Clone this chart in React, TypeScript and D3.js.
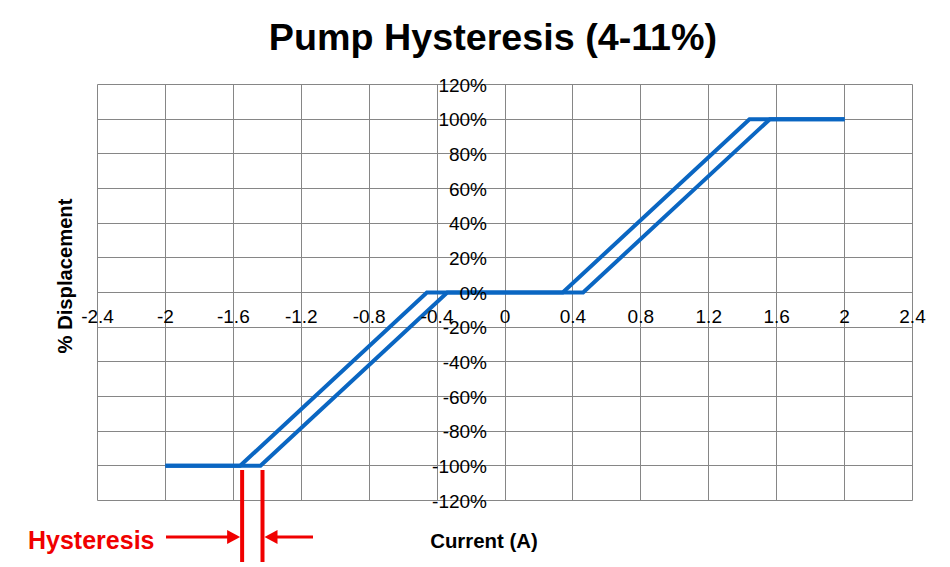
import React from "react";
import * as d3 from "d3";

const W = 950;
const H = 567;

const chartTitle = "Pump Hysteresis (4-11%)";
const xTitle = "Current (A)";
const yTitle = "% Displacement";
const hysteresisLabel = "Hysteresis";

const xTicks = [-2.4, -2, -1.6, -1.2, -0.8, -0.4, 0, 0.4, 0.8, 1.2, 1.6, 2, 2.4];
const yTicks = [-120, -100, -80, -60, -40, -20, 0, 20, 40, 60, 80, 100, 120];

// Two branches of the hysteresis loop
const currentUp = [-2, -1.56, -0.46, 0.34, 1.44, 2];
const displacementUp = [-100, -100, 0, 0, 100, 100];
const currentDown = [-2, -1.44, -0.34, 0.46, 1.56, 2];
const displacementDown = [-100, -100, 0, 0, 100, 100];

const fmtX = (v: number) => (v === 0 ? "0" : String(+v.toFixed(1)));

export default function App() {
  const x = d3.scaleLinear().domain([-2.4, 2.4]).range([97.5, 912.5]);
  const y = d3.scaleLinear().domain([-120, 120]).range([500.5, 84.5]);
  const px = (v: number) => Math.round(x(v) - 0.5) + 0.5;
  const py = (v: number) => Math.round(y(v) - 0.5) + 0.5;

  const line = d3
    .line<[number, number]>()
    .x((d) => x(d[0]))
    .y((d) => y(d[1]));

  const up: [number, number][] = currentUp.map((c, i) => [c, displacementUp[i]]);
  const down: [number, number][] = currentDown.map((c, i) => [c, displacementDown[i]]);

  const grid = "#868686";
  const blue = "#0a66c2";
  const red = "#f00000";
  const font = "Liberation Sans, Arial, sans-serif";

  const h1 = x(currentUp[1]) + 2;
  const h2 = x(currentDown[1]) + 2;
  const arrowY = 537;

  return (
    <svg
      width={W}
      height={H}
      style={{ position: "absolute", left: 0, top: 0, background: "#fff" }}
      fontFamily={font}
    >
      <rect x={0} y={0} width={W} height={H} fill="#fff" />
      {/* grid */}
      {xTicks.map((t) => (
        <line key={"gx" + t} x1={px(t)} x2={px(t)} y1={py(120)} y2={py(-120)} stroke={grid} strokeWidth={1} />
      ))}
      {yTicks.map((t) => (
        <line key={"gy" + t} x1={px(-2.4)} x2={px(2.4)} y1={py(t)} y2={py(t)} stroke={grid} strokeWidth={1} />
      ))}

      {/* series */}
      <path d={line(up) || ""} fill="none" stroke={blue} strokeWidth={4} strokeLinejoin="miter" />
      <path d={line(down) || ""} fill="none" stroke={blue} strokeWidth={4} strokeLinejoin="miter" />

      {/* x tick labels */}
      {xTicks.map((t) => (
        <text key={"tx" + t} x={x(t)} y={323} fontSize={19} textAnchor="middle" fill="#000">
          {fmtX(t)}
        </text>
      ))}
      {/* y tick labels */}
      {yTicks.map((t) => (
        <text key={"ty" + t} x={487} y={y(t) + 7} fontSize={19} textAnchor="end" fill="#000">
          {t + "%"}
        </text>
      ))}

      {/* titles */}
      <text x={493} y={50} fontSize={37.7} fontWeight="bold" textAnchor="middle" fill="#000">
        {chartTitle}
      </text>
      <text x={484} y={548} fontSize={20.4} fontWeight="bold" textAnchor="middle" fill="#000">
        {xTitle}
      </text>
      <text
        transform={`translate(72,276) rotate(-90)`}
        fontSize={20.2}
        fontWeight="bold"
        textAnchor="middle"
        fill="#000"
      >
        {yTitle}
      </text>

      {/* hysteresis annotation */}
      <text x={28} y={549} fontSize={25} fontWeight="bold" fill={red}>
        {hysteresisLabel}
      </text>
      <line x1={h1} x2={h1} y1={470} y2={562} stroke={red} strokeWidth={4} />
      <line x1={h2} x2={h2} y1={470} y2={562} stroke={red} strokeWidth={4} />
      <line x1={166} x2={h1 - 12} y1={arrowY} y2={arrowY} stroke={red} strokeWidth={3} />
      <path d={`M${h1 - 2},${arrowY} L${h1 - 15},${arrowY - 7} L${h1 - 15},${arrowY + 7} Z`} fill={red} />
      <line x1={313} x2={h2 + 12} y1={arrowY} y2={arrowY} stroke={red} strokeWidth={3} />
      <path d={`M${h2 + 2},${arrowY} L${h2 + 15},${arrowY - 7} L${h2 + 15},${arrowY + 7} Z`} fill={red} />
    </svg>
  );
}
